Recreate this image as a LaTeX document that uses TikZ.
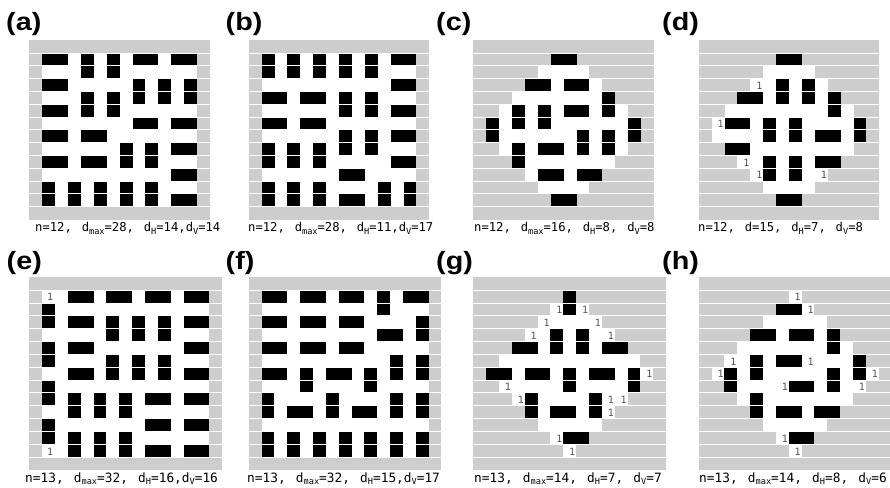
\documentclass[tikz,border=0pt]{standalone}
\usepackage{fontspec}
\newfontfamily\labfont{Liberation Sans}
\newfontfamily\monofont{DejaVu Sans Mono}
\definecolor{stip}{RGB}{205,205,205}
\definecolor{onegray}{RGB}{85,85,85}
\newcommand{\sbs}[1]{\raisebox{-2.8bp}{\fontsize{8.6bp}{9bp}\selectfont #1}}
\newcommand{\gap}{\hspace{2.5bp}}
\newcommand{\plab}[1]{\scalebox{1.15}[1]{#1}}
\tikzset{
  panellabel/.style={font=\labfont\bfseries\fontsize{25bp}{27bp}\selectfont, anchor=base west, inner sep=0pt},
  infotop/.style={font=\monofont\fontsize{12.2bp}{14bp}\selectfont, anchor=base west, inner sep=0pt},
  infobot/.style={font=\monofont\fontsize{12.8bp}{14bp}\selectfont, anchor=base west, inner sep=0pt},
  one/.style={font=\monofont\fontsize{10bp}{11bp}\selectfont, text=onegray, inner sep=0pt},
  stipple/.style={fill=stip},
  dom/.style={fill=black},
  sep/.style={draw=white, line width=1bp},
}
\begin{document}
\frenchspacing
\begin{tikzpicture}[x=1bp,y=-1bp]
\useasboundingbox (0,0) rectangle (890,488);

% ---------- (a)
\begin{scope}[shift={(29.3bp,-40.3bp)}, x=12.9bp, y=-12.8bp]
  \fill[stipple] (0,0) rectangle (14,14);
  \fill[white] (1,1) rectangle (13,13);
  \foreach \c/\r in {1/1,8/1,11/1,1/3,1/5,8/6,11/6,1/7,4/7,11/8,1/9,4/9,11/10,11/12}
    \fill[dom] (\c,\r) rectangle ++(2,1);
  \foreach \c/\r in {4/1,6/1,8/3,10/3,12/3,4/4,6/4,7/8,9/8,1/11,3/11,5/11,7/11,9/11}
    \fill[dom] (\c,\r) rectangle ++(1,2);
  \foreach \r in {1,...,13} \draw[sep] (0,\r) -- (14,\r);
\end{scope}

% ---------- (b)
\begin{scope}[shift={(248.7bp,-40.3bp)}, x=12.9bp, y=-12.8bp]
  \fill[stipple] (0,0) rectangle (14,14);
  \fill[white] (1,1) rectangle (13,13);
  \foreach \c/\r in {11/1,11/3,1/4,4/4,11/5,1/6,4/6,11/7,11/9,7/10,7/12}
    \fill[dom] (\c,\r) rectangle ++(2,1);
  \foreach \c/\r in {1/1,3/1,5/1,7/1,9/1,7/4,9/4,7/7,9/7,1/8,3/8,5/8,1/11,3/11,5/11,10/11,12/11}
    \fill[dom] (\c,\r) rectangle ++(1,2);
  \foreach \r in {1,...,13} \draw[sep] (0,\r) -- (14,\r);
\end{scope}

% ---------- (c)
\begin{scope}[shift={(473.3bp,-40.3bp)}, x=12.9bp, y=-12.8bp]
  \fill[stipple] (0,0) rectangle (14,14);
  \foreach \r/\a/\b in {1/6/7,2/5/8,3/4/9,4/3/10,5/2/11,6/1/12,7/1/12,8/2/11,9/3/10,10/4/9,11/5/8,12/6/7}
    \fill[white] (\a,\r) rectangle (\b+1,\r+1);
  \foreach \c/\r in {6/1,4/3,7/3,7/5,5/8,5/10,8/10,6/12}
    \fill[dom] (\c,\r) rectangle ++(2,1);
  \foreach \c/\r in {10/4,3/5,5/5,1/6,12/6,8/7,10/7,3/8}
    \fill[dom] (\c,\r) rectangle ++(1,2);
  \foreach \r in {1,...,13} \draw[sep] (0,\r) -- (14,\r);
\end{scope}

% ---------- (d)
\begin{scope}[shift={(698.7bp,-40.3bp)}, x=12.9bp, y=-12.8bp]
  \fill[stipple] (0,0) rectangle (14,14);
  \foreach \r/\a/\b in {1/6/7,2/5/8,3/4/9,4/3/10,5/2/11,6/1/12,7/1/12,8/2/11,9/3/10,10/4/9,11/5/8,12/6/7}
    \fill[white] (\a,\r) rectangle (\b+1,\r+1);
  \foreach \c/\r in {6/1,3/4,2/6,9/7,2/8,9/9,6/12}
    \fill[dom] (\c,\r) rectangle ++(2,1);
  \foreach \c/\r in {6/3,8/3,10/4,5/6,7/6,12/6,5/9,7/9}
    \fill[dom] (\c,\r) rectangle ++(1,2);
  \foreach \r in {1,...,13} \draw[sep] (0,\r) -- (14,\r);
  \foreach \c/\r in {4/3,1/6,3/9,4/10,9/10}
    \node[one] (d1-\c-\r) at (\c+0.7,\r+0.55) {1};
\end{scope}

% ---------- (e)
\begin{scope}[shift={(29.3bp,-277.3bp)}, x=12.85bp, y=-12.85bp]
  \fill[stipple] (0,0) rectangle (15,15);
  \fill[white] (1,1) rectangle (14,14);
  \foreach \c/\r in {3/1,6/1,9/1,12/1,3/3,12/3,3/5,12/5,3/7,12/7,9/9,12/9,9/11,12/11,9/13,12/13}
    \fill[dom] (\c,\r) rectangle ++(2,1);
  \foreach \c/\r in {1/2,6/3,8/3,10/3,1/5,6/6,8/6,10/6,1/8,3/9,5/9,7/9,1/11,3/12,5/12,7/12}
    \fill[dom] (\c,\r) rectangle ++(1,2);
  \foreach \r in {1,...,14} \draw[sep] (0,\r) -- (15,\r);
  \foreach \c/\r in {1/1,1/13}
    \node[one] (e1-\c-\r) at (\c+0.62,\r+0.55) {1};
\end{scope}

% ---------- (f)
\begin{scope}[shift={(248.7bp,-277.3bp)}, x=12.85bp, y=-12.85bp]
  \fill[stipple] (0,0) rectangle (15,15);
  \fill[white] (1,1) rectangle (14,14);
  \foreach \c/\r in {1/1,4/1,7/1,12/1,1/3,4/3,7/3,10/4,1/5,4/5,7/5,1/7,6/7,3/10,8/10}
    \fill[dom] (\c,\r) rectangle ++(2,1);
  \foreach \c/\r in {10/1,13/3,11/6,13/6,4/7,9/7,1/9,6/9,11/9,13/9,1/12,3/12,5/12,7/12,9/12,11/12,13/12}
    \fill[dom] (\c,\r) rectangle ++(1,2);
  \foreach \r in {1,...,14} \draw[sep] (0,\r) -- (15,\r);
\end{scope}

% ---------- (g)
\begin{scope}[shift={(473.3bp,-277.3bp)}, x=12.85bp, y=-12.85bp]
  \fill[stipple] (0,0) rectangle (15,15);
  \foreach \r/\a/\b in {1/7/7,2/6/8,3/5/9,4/4/10,5/3/11,6/2/12,7/1/13,8/2/12,9/3/11,10/4/10,11/5/9,12/6/8,13/7/7}
    \fill[white] (\a,\r) rectangle (\b+1,\r+1);
  \foreach \c/\r in {3/5,10/5,1/7,4/7,9/7,6/10,7/12}
    \fill[dom] (\c,\r) rectangle ++(2,1);
  \foreach \c/\r in {7/1,6/4,8/4,7/7,12/7,4/9,9/9}
    \fill[dom] (\c,\r) rectangle ++(1,2);
  \foreach \r in {1,...,14} \draw[sep] (0,\r) -- (15,\r);
  \foreach \c/\r in {6/2,8/2,5/3,9/3,4/4,10/4,13/7,2/8,3/9,10/9,11/9,10/10,6/12,7/13}
    \node[one] (g1-\c-\r) at (\c+0.7,\r+0.55) {1};
\end{scope}

% ---------- (h)
\begin{scope}[shift={(698.7bp,-277.3bp)}, x=12.85bp, y=-12.85bp]
  \fill[stipple] (0,0) rectangle (15,15);
  \foreach \r/\a/\b in {1/7/7,2/6/8,3/5/9,4/4/10,5/3/11,6/2/12,7/1/13,8/2/12,9/3/11,10/4/10,11/5/9,12/6/8,13/7/7}
    \fill[white] (\a,\r) rectangle (\b+1,\r+1);
  \foreach \c/\r in {6/2,4/4,7/4,6/6,7/8,6/10,9/10,7/12}
    \fill[dom] (\c,\r) rectangle ++(2,1);
  \foreach \c/\r in {10/4,4/6,12/6,2/7,10/7,4/9}
    \fill[dom] (\c,\r) rectangle ++(1,2);
  \foreach \r in {1,...,14} \draw[sep] (0,\r) -- (15,\r);
  \foreach \c/\r in {7/1,8/2,2/6,8/6,1/7,13/7,6/8,12/8,6/12,7/13}
    \node[one] (h1-\c-\r) at (\c+0.7,\r+0.55) {1};
\end{scope}

% ---------- panel labels
\node[panellabel] (la) at (6,31) {\plab{(a)}};
\node[panellabel] (lb) at (225.5,31) {\plab{(b)}};
\node[panellabel] (lc) at (436,31) {\plab{(c)}};
\node[panellabel] (ld) at (662,31) {\plab{(d)}};
\node[panellabel] (le) at (6.5,270) {\plab{(e)}};
\node[panellabel] (lf) at (225.5,270) {\plab{(f)}};
\node[panellabel] (lg) at (436,270) {\plab{(g)}};
\node[panellabel] (lh) at (662,270) {\plab{(h)}};

% ---------- info lines
\node[infotop] (ia) at (35,232) {n=12,\gap{} d\sbs{max}=28,\gap{} d\sbs{H}=14,d\sbs{V}=14};
\node[infotop] (ib) at (248,232) {n=12,\gap{} d\sbs{max}=28,\gap{} d\sbs{H}=11,d\sbs{V}=17};
\node[infotop] (ic) at (474,232) {n=12,\gap{} d\sbs{max}=16,\gap{} d\sbs{H}=8,\gap{} d\sbs{V}=8};
\node[infotop] (id) at (698,232) {n=12,\gap{} d=15,\gap{} d\sbs{H}=7,\gap{} d\sbs{V}=8};
\node[infobot] (ie) at (25,482) {n=13,\gap{} d\sbs{max}=32,\gap{} d\sbs{H}=16,d\sbs{V}=16};
\node[infobot] (if) at (247,482) {n=13,\gap{} d\sbs{max}=32,\gap{} d\sbs{H}=15,d\sbs{V}=17};
\node[infobot] (ig) at (474,482) {n=13,\gap{} d\sbs{max}=14,\gap{} d\sbs{H}=7,\gap{} d\sbs{V}=7};
\node[infobot] (ih) at (699,482) {n=13,\gap{} d\sbs{max}=14,\gap{} d\sbs{H}=8,\gap{} d\sbs{V}=6};
\end{tikzpicture}
\end{document}
